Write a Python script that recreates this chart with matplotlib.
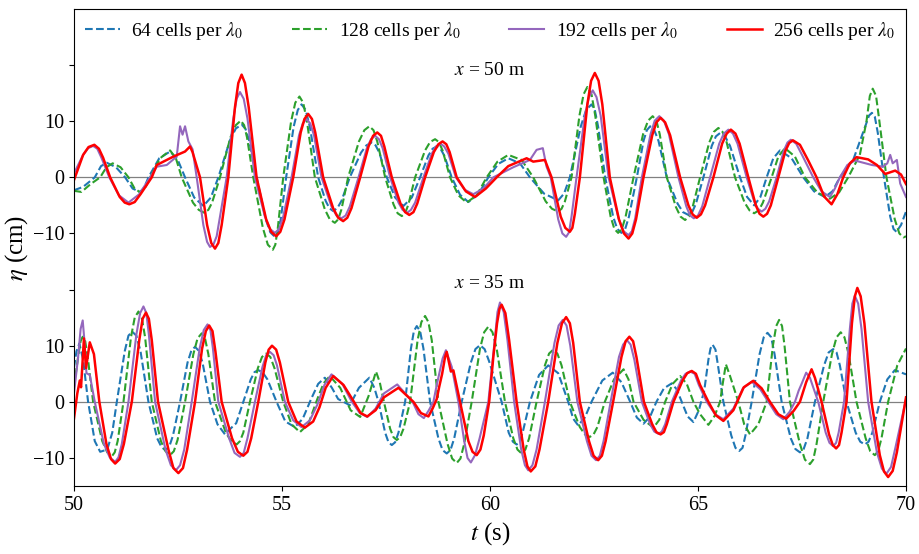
import matplotlib.pyplot as plt

plt.rcParams['font.family'] = ['Liberation Serif', 'DejaVu Serif']
plt.rcParams['mathtext.fontset'] = 'stix'

labels = ['64 cells per $\\lambda_0$', '128 cells per $\\lambda_0$',
          '192 cells per $\\lambda_0$', '256 cells per $\\lambda_0$']
offset_top = 40  # the x = 50 m record is drawn 40 cm higher

# (t [s], eta [cm]), x = 35 m
b64 = [(50.00, 6.1), (50.06, 9.0), (50.13, 10.4), (50.22, 7.5), (50.34, 0), (50.50, -7.0), (50.63, -8.9),
       (50.80, -8.5), (50.92, -5.5), (51.03, 0), (51.22, 9.0), (51.31, 11.8), (51.40, 12.5), (51.50, 11.8),
       (51.60, 9.0), (51.79, 0), (52.00, -6.5), (52.10, -8.0), (52.19, -8.6), (52.29, -8.0), (52.38, -6.0),
       (52.55, 0), (52.73, 7.0), (52.82, 9.1), (52.91, 9.8), (53.00, 9.1), (53.09, 7.0), (53.27, 0),
       (53.45, -4.0), (53.63, -5.8), (53.80, -4.5), (53.90, -3.8), (54.07, 0), (54.25, 4.0), (54.34, 5.3),
       (54.43, 5.65), (54.54, 5.2), (54.65, 4.0), (54.87, 0), (55.08, -3.5), (55.31, -4.5), (55.50, -3.0),
       (55.70, 0.5), (55.87, 3.2), (56.03, 4.3), (56.20, 2.5), (56.35, 0.5), (56.63, -0.6), (56.85, 2.5),
       (57.10, 4.3), (57.22, 2.5), (57.32, 0), (57.48, -5.5), (57.56, -7.2), (57.64, -7.7), (57.72, -7.2),
       (57.80, -5.5), (57.96, 0), (58.10, 9.5), (58.17, 12.6), (58.24, 13.5), (58.32, 12.6), (58.40, 9.5),
       (58.56, 0), (58.76, -6.5), (58.86, -8.6), (58.96, -9.2), (59.05, -8.6), (59.14, -6.5), (59.32, 0),
       (59.54, 7.0), (59.65, 9.4), (59.76, 10.1), (59.87, 9.4), (59.98, 7.2), (60.28, 0), (60.45, -5.5),
       (60.55, -7.1), (60.64, -7.6), (60.72, -7.1), (60.80, -5.0), (60.96, 0), (61.18, 4.8), (61.40, 6.5),
       (61.64, 5.1), (61.88, 0), (62.00, -3.0), (62.12, -4.2), (62.28, -2.8), (62.44, 0), (62.70, 3.8),
       (62.95, 5.2), (63.16, 3.5), (63.37, 0), (63.53, -2.8), (63.69, -3.9), (63.85, -2.6), (64.00, 0),
       (64.18, 2.4), (64.37, 3.3), (64.49, 2.2), (64.61, 0), (64.75, -2.6), (64.89, -3.6), (65.02, -1.5),
       (65.15, 2.0), (65.25, 7.5), (65.30, 9.5), (65.35, 10.2), (65.42, 9.3), (65.48, 6.5), (65.61, 0),
       (65.80, -6.0), (65.90, -8.2), (65.99, -8.75), (66.07, -8.2), (66.14, -6.0), (66.29, 0), (66.48, 8.5),
       (66.58, 11.5), (66.67, 12.3), (66.76, 11.5), (66.84, 8.5), (67.01, 0), (67.23, -6.5), (67.34, -8.4),
       (67.45, -9.0), (67.54, -8.4), (67.63, -6.5), (67.81, 0), (68.03, 6.5), (68.14, 8.8), (68.25, 9.4),
       (68.33, 8.8), (68.41, 6.5), (68.57, 0), (68.79, -5.5), (68.90, -7.1), (69.01, -7.6), (69.10, -7.1),
       (69.19, -5.5), (69.37, 0), (69.55, 4.0), (69.73, 5.65), (70.00, 4.9)]

b128 = [(50.00, 2.7), (50.10, 8.0), (50.16, 10.8), (50.21, 11.6), (50.27, 10.8), (50.33, 8.0), (50.46, 0),
        (50.68, -7.0), (50.80, -9.0), (50.91, -9.7), (50.98, -9.0), (51.05, -7.0), (51.19, 0), (51.37, 11.5),
        (51.46, 15.0), (51.55, 16.1), (51.63, 15.0), (51.71, 11.5), (51.87, 0), (52.09, -7.0), (52.20, -8.8),
        (52.31, -9.5), (52.40, -8.8), (52.49, -6.8), (52.67, 0), (52.87, 8.5), (52.97, 11.3), (53.07, 12.2),
        (53.15, 11.3), (53.23, 8.5), (53.39, 0), (53.65, -5.5), (53.78, -7.0), (53.91, -7.6), (53.99, -7.0),
        (54.07, -5.5), (54.23, 0), (54.42, 6.0), (54.52, 8.0), (54.62, 8.6), (54.72, 8.0), (54.82, 6.0),
        (55.03, 0), (55.23, -4.0), (55.43, -5.4), (55.63, -4.0), (55.85, 0.5), (56.00, 3.3), (56.15, 4.6),
        (56.40, 2.5), (56.65, -1.5), (56.88, -2.7), (57.08, 1.0), (57.26, 5.4), (57.35, 3.5), (57.45, 0),
        (57.60, -4.8), (57.68, -6.3), (57.76, -6.8), (57.84, -6.3), (57.92, -4.8), (58.08, 0), (58.26, 11.0),
        (58.35, 14.2), (58.44, 15.3), (58.52, 14.2), (58.60, 11.0), (58.76, 0), (58.98, -7.5), (59.09, -10.1),
        (59.20, -10.9), (59.29, -10.1), (59.38, -7.5), (59.56, 0), (59.76, 9.5), (59.86, 12.4), (59.96, 13.4),
        (60.06, 12.4), (60.16, 9.5), (60.36, 0), (60.56, -6.5), (60.66, -8.5), (60.76, -9.2), (60.85, -8.5),
        (60.94, -6.5), (61.12, 0), (61.32, 6.5), (61.42, 8.6), (61.52, 9.3), (61.62, 8.6), (61.72, 6.5),
        (61.92, 0), (62.16, -4.5), (62.28, -5.8), (62.40, -6.25), (62.49, -5.8), (62.58, -4.5), (62.76, 0),
        (62.98, 4.0), (63.21, 5.8), (63.33, 4.0), (63.45, 0), (63.69, -3.2), (63.93, -4.6), (64.07, -3.2),
        (64.21, 0), (64.39, 3.2), (64.57, 4.6), (64.73, 3.2), (64.89, 0), (65.05, -2.2), (65.25, -4.1),
        (65.40, -2.5), (65.53, 0), (65.60, 3.5), (65.67, 6.7), (65.77, 4.6), (65.97, 0), (66.11, -4.0),
        (66.25, -5.8), (66.45, -4.0), (66.65, 0), (66.80, 10.0), (66.88, 13.5), (66.95, 14.6), (67.02, 13.5),
        (67.08, 10.0), (67.21, 0), (67.45, -7.5), (67.57, -10.3), (67.69, -11.1), (67.77, -10.3), (67.85, -7.5),
        (68.01, 0), (68.22, 8.5), (68.33, 11.5), (68.43, 12.4), (68.52, 11.5), (68.62, 8.5), (68.81, 0),
        (69.03, -6.5), (69.14, -8.8), (69.25, -9.5), (69.33, -8.8), (69.41, -6.5), (69.57, 0), (69.79, 6.5),
        (70.00, 9.5)]

b192 = [(50.00, 1.5), (50.10, 8.0), (50.16, 13.0), (50.21, 14.5), (50.25, 11.0), (50.30, 5.1), (50.38, 4.8),
        (50.50, 0), (50.72, -7.5), (50.86, -9.9), (50.99, -10.7), (51.07, -9.9), (51.15, -7.5), (51.31, 0),
        (51.50, 12.0), (51.59, 15.8), (51.67, 17.0), (51.74, 15.8), (51.80, 12.0), (51.95, 0), (52.20, -8.5),
        (52.33, -11.3), (52.45, -12.2), (52.55, -11.3), (52.65, -8.5), (52.83, 0), (53.02, 9.5), (53.12, 12.8),
        (53.21, 13.8), (53.28, 12.8), (53.34, 9.5), (53.47, 0), (53.73, -6.5), (53.86, -9.1), (53.99, -9.8),
        (54.08, -9.1), (54.17, -6.5), (54.35, 0), (54.53, 6.2), (54.62, 8.3), (54.71, 8.9), (54.80, 8.3),
        (54.88, 6.5), (55.07, 0), (55.27, -3.3), (55.47, -4.5), (55.67, -3.3), (55.85, -0.5), (56.02, 3.0),
        (56.19, 4.9), (56.45, 3.2), (56.68, 0), (56.87, -2.0), (57.05, -2.7), (57.25, -1.2), (57.45, 1.5),
        (57.77, 3.1), (58.14, 0), (58.28, -2.2), (58.41, -2.9), (58.53, -1.5), (58.64, 0), (58.72, 3.0),
        (58.80, 5.7), (58.86, 7.7), (58.94, 9.2), (59.02, 7.5), (59.08, 6.25), (59.24, 0), (59.38, -7.0),
        (59.46, -10.0), (59.54, -10.8), (59.64, -9.5), (59.75, -6.5), (59.96, 0), (60.10, 10.0), (60.18, 16.0),
        (60.24, 17.7), (60.33, 16.0), (60.42, 11.0), (60.58, 0), (60.75, -8.5), (60.84, -11.3), (60.92, -12.2),
        (61.02, -11.3), (61.12, -8.5), (61.32, 0), (61.55, 10.5), (61.65, 13.6), (61.75, 14.6), (61.84, 13.6),
        (61.93, 10.0), (62.10, 0), (62.33, -7.0), (62.44, -9.6), (62.55, -10.4), (62.64, -9.6), (62.73, -7.0),
        (62.90, 0), (63.10, 8.0), (63.20, 10.2), (63.29, 11.0), (63.38, 10.2), (63.47, 7.5), (63.65, 0),
        (63.85, -4.0), (63.95, -5.3), (64.05, -5.7), (64.13, -5.3), (64.21, -4.0), (64.37, 0), (64.59, 3.8),
        (64.70, 5.0), (64.81, 5.4), (64.92, 5.0), (65.02, 3.0), (65.21, 0), (65.41, -2.2), (65.61, -3.1),
        (65.85, -1.2), (66.08, 2.4), (66.29, 3.6), (66.50, 2.2), (66.69, 0), (66.88, -2.2), (67.05, -3.1),
        (67.20, -1.8), (67.33, 0), (67.42, 2.0), (67.49, 3.2), (67.60, 5.2), (67.69, 4.3), (67.89, 0),
        (68.07, -5.5), (68.16, -7.3), (68.25, -7.9), (68.32, -7.3), (68.38, -5.5), (68.51, 0), (68.65, 13.0),
        (68.71, 17.5), (68.77, 18.9), (68.85, 17.5), (68.93, 13.0), (69.09, 0), (69.30, -9.0), (69.42, -11.9),
        (69.53, -12.8), (69.64, -11.6), (69.75, -8.0), (70.00, 0.5)]

b256 = [(50.00, -3.0), (50.08, 1.5), (50.14, 3.8), (50.17, 2.6), (50.24, 11.3), (50.29, 6.0), (50.38, 10.6),
        (50.48, 8.5), (50.61, 0), (50.78, -7.5), (50.89, -10.2), (50.99, -11.0), (51.10, -10.2), (51.20, -7.5),
        (51.39, 0), (51.57, 11.0), (51.65, 14.8), (51.73, 15.9), (51.80, 14.8), (51.87, 11.0), (52.02, 0),
        (52.27, -8.5), (52.39, -11.8), (52.51, -12.7), (52.62, -11.8), (52.72, -8.5), (52.91, 0), (53.08, 9.5),
        (53.17, 12.6), (53.25, 13.6), (53.33, 12.6), (53.40, 9.0), (53.55, 0), (53.80, -6.5), (53.94, -8.9),
        (54.07, -9.6), (54.17, -8.9), (54.26, -6.5), (54.43, 0), (54.60, 7.0), (54.68, 9.3), (54.76, 10.0),
        (54.86, 9.3), (54.95, 7.0), (55.15, 0), (55.35, -3.5), (55.55, -4.6), (55.75, -3.5), (55.90, -1.0),
        (56.05, 2.5), (56.23, 4.6), (56.48, 3.0), (56.73, 0), (56.89, -2.0), (57.05, -2.6), (57.25, -1.5),
        (57.45, 0.8), (57.80, 2.5), (58.16, 0), (58.34, -2.0), (58.52, -2.6), (58.62, -1.2), (58.72, 0.5),
        (58.78, 2.7), (58.85, 5.0), (58.92, 8.0), (58.96, 8.9), (59.03, 6.5), (59.06, 5.4), (59.12, 5.6),
        (59.28, 0), (59.48, -7.0), (59.58, -8.9), (59.68, -9.5), (59.77, -8.5), (59.85, -6.0), (59.98, 0),
        (60.08, 8.0), (60.17, 14.0), (60.23, 16.6), (60.28, 17.3), (60.37, 15.8), (60.46, 11.0), (60.64, 0),
        (60.81, -8.5), (60.90, -11.5), (60.98, -12.4), (61.09, -11.5), (61.19, -8.5), (61.40, 0), (61.62, 10.5),
        (61.73, 14.0), (61.83, 15.1), (61.92, 14.0), (62.00, 10.5), (62.16, 0), (62.38, -7.0), (62.49, -9.6),
        (62.60, -10.4), (62.69, -9.6), (62.78, -7.0), (62.96, 0), (63.16, 8.0), (63.26, 10.8), (63.35, 11.6),
        (63.44, 10.8), (63.52, 8.0), (63.70, 0), (63.90, -4.0), (64.00, -5.4), (64.10, -5.8), (64.18, -5.4),
        (64.25, -4.0), (64.41, 0), (64.63, 3.8), (64.74, 5.1), (64.85, 5.5), (64.95, 5.0), (65.05, 3.0),
        (65.25, 0), (65.43, -2.4), (65.61, -3.4), (65.85, -1.5), (66.10, 2.6), (66.33, 3.75), (66.53, 2.4),
        (66.73, 0), (66.93, -2.2), (67.12, -3.0), (67.30, -1.6), (67.45, 0), (67.60, 3.5), (67.73, 5.8),
        (67.81, 4.3), (67.97, 0), (68.15, -5.8), (68.24, -7.7), (68.32, -8.3), (68.39, -7.7), (68.45, -5.5),
        (68.57, 0), (68.70, 14.0), (68.77, 18.8), (68.83, 20.3), (68.91, 18.8), (69.00, 14.0), (69.17, 0),
        (69.37, -9.5), (69.47, -12.4), (69.57, -13.4), (69.68, -12.3), (69.78, -9.0), (70.00, 0.8)]

# x = 50 m
a64 = [(50.00, -2.3), (50.22, -1.7), (50.50, 0), (50.65, 2.0), (50.79, 2.6), (51.01, 1.8), (51.23, 0),
       (51.41, -2.0), (51.59, -2.6), (51.69, -1.8), (51.79, 0), (52.05, 3.4), (52.31, 4.6), (52.49, 3.2),
       (52.67, 0), (52.89, -3.6), (53.11, -5.1), (53.29, -3.6), (53.47, 0), (53.75, 6.6), (53.89, 8.7),
       (54.03, 9.4), (54.12, 8.7), (54.21, 6.6), (54.39, 0), (54.61, -7.5), (54.72, -9.8), (54.83, -10.6),
       (54.90, -9.8), (54.97, -7.5), (55.10, 0), (55.28, 9.0), (55.38, 12.0), (55.47, 13.0), (55.57, 12.0),
       (55.67, 9.0), (55.87, 0), (56.05, -4.2), (56.14, -5.5), (56.23, -6.0), (56.33, -5.5), (56.43, -4.2),
       (56.63, 0), (56.90, 4.4), (57.03, 5.7), (57.16, 6.2), (57.25, 5.7), (57.34, 4.4), (57.52, 0),
       (57.72, -3.6), (57.92, -5.1), (58.12, -3.6), (58.32, 0), (58.52, 3.9), (58.62, 5.1), (58.72, 5.5),
       (58.81, 5.1), (58.90, 3.9), (59.08, 0), (59.28, -3.1), (59.48, -4.4), (59.72, -3.0), (59.96, 0),
       (60.20, 2.4), (60.44, 3.4), (60.72, 2.5), (60.96, 0), (61.30, -2.9), (61.64, -4.1), (61.78, -2.9),
       (61.92, 0), (62.18, 9.0), (62.31, 12.0), (62.44, 13.0), (62.52, 12.0), (62.60, 9.0), (62.77, 0),
       (62.96, -7.0), (63.06, -9.2), (63.16, -9.9), (63.25, -9.2), (63.34, -7.0), (63.53, 0), (63.69, 6.5),
       (63.77, 8.4), (63.85, 9.1), (63.95, 8.4), (64.05, 6.5), (64.25, 0), (64.51, -4.7), (64.64, -6.2),
       (64.77, -6.7), (64.86, -6.2), (64.95, -4.7), (65.13, 0), (65.33, 5.6), (65.43, 7.3), (65.53, 7.9),
       (65.65, 7.3), (65.77, 5.6), (66.01, 0), (66.18, -3.5), (66.35, -5.0), (66.50, -3.5), (66.65, 0),
       (66.81, 3.4), (66.97, 4.8), (67.25, 3.4), (67.53, 0), (67.79, -2.5), (68.05, -3.5), (68.23, -2.5),
       (68.41, 0), (68.73, 3.1), (68.89, 6.4), (69.04, 9.5), (69.11, 11.0), (69.18, 11.5), (69.25, 10.8),
       (69.32, 8.0), (69.47, 0), (69.62, -7.0), (69.70, -9.2), (69.77, -9.7), (69.88, -8.5), (70.00, -6.1)]

a128 = [(50.00, -2.4), (50.18, -2.6), (50.40, -1.2), (50.63, 0), (50.78, 1.8), (50.93, 2.5), (51.12, 1.8),
        (51.31, 0), (51.45, -1.9), (51.59, -2.7), (51.71, -1.9), (51.83, 0), (52.07, 3.4), (52.31, 4.8),
        (52.45, 3.4), (52.59, 0), (52.86, -4.5), (53.00, -5.8), (53.13, -6.3), (53.23, -5.8), (53.32, -4.5),
        (53.51, 0), (53.76, 7.1), (53.89, 9.3), (54.01, 10.1), (54.09, 9.3), (54.16, 7.1), (54.31, 0),
        (54.54, -9.0), (54.66, -12.0), (54.78, -12.9), (54.84, -12.0), (54.90, -9.0), (55.03, 0), (55.22, 10.0),
        (55.32, 13.3), (55.42, 14.4), (55.51, 13.3), (55.60, 10.0), (55.79, 0), (56.03, -5.7), (56.15, -7.5),
        (56.27, -8.1), (56.35, -7.5), (56.43, -5.7), (56.59, 0), (56.85, 6.4), (56.98, 8.4), (57.10, 9.1),
        (57.20, 8.4), (57.29, 6.4), (57.48, 0), (57.68, -4.8), (57.78, -6.4), (57.88, -6.9), (57.96, -6.4),
        (58.04, -4.8), (58.20, 0), (58.44, 4.8), (58.56, 6.3), (58.68, 6.8), (58.77, 6.3), (58.86, 4.8),
        (59.04, 0), (59.24, -3.2), (59.44, -4.5), (59.68, -3.2), (59.92, 0), (60.18, 2.8), (60.44, 4.0),
        (60.76, 3.1), (61.04, 0), (61.34, -4.3), (61.49, -5.6), (61.64, -6.1), (61.72, -5.6), (61.80, -4.3),
        (61.96, 0), (62.15, 11.0), (62.25, 14.8), (62.34, 16.1), (62.44, 14.8), (62.53, 11.0), (62.73, 0),
        (62.90, -7.0), (62.99, -9.2), (63.08, -9.9), (63.17, -9.2), (63.26, -7.0), (63.45, 0), (63.68, 7.7),
        (63.80, 10.1), (63.91, 10.9), (64.00, 10.1), (64.08, 7.7), (64.25, 0), (64.47, -5.3), (64.58, -7.0),
        (64.69, -7.6), (64.78, -7.0), (64.87, -5.3), (65.05, 0), (65.27, 6.2), (65.38, 8.1), (65.49, 8.8),
        (65.59, 8.1), (65.69, 6.2), (65.89, 0), (66.12, -4.5), (66.24, -5.9), (66.35, -6.4), (66.46, -5.9),
        (66.56, -4.5), (66.77, 0), (66.93, 3.7), (67.09, 5.2), (67.33, 3.7), (67.57, 0), (67.87, -2.7),
        (68.17, -3.8), (68.39, -2.7), (68.61, 0), (68.89, 4.0), (69.05, 10.0), (69.13, 14.5), (69.20, 15.8),
        (69.28, 14.5), (69.36, 10.0), (69.53, 0), (69.73, -7.5), (69.84, -10.0), (69.94, -10.7), (70.00, -10.5)]

a192 = [(50.00, 0.7), (50.22, 4.0), (50.34, 5.2), (50.46, 5.6), (50.56, 5.1), (50.66, 3.5), (50.85, 0),
        (51.08, -3.2), (51.31, -4.5), (51.57, -3.0), (51.83, 0), (51.99, 1.9), (52.23, 2.2), (52.47, 3.7),
        (52.55, 9.1), (52.61, 7.6), (52.67, 9.1), (52.75, 6.4), (52.85, 5.0), (52.95, 0), (53.11, -8.5),
        (53.20, -11.5), (53.27, -12.4), (53.35, -12.0), (53.43, -10.5), (53.51, -7.0), (53.67, 0), (53.83, 10.5),
        (53.91, 14.0), (53.99, 15.2), (54.08, 14.0), (54.17, 10.5), (54.35, 0), (54.59, -7.0), (54.71, -9.2),
        (54.83, -9.9), (54.93, -9.2), (55.03, -7.0), (55.23, 0), (55.41, 7.5), (55.50, 9.6), (55.59, 10.4),
        (55.68, 9.6), (55.77, 7.5), (55.95, 0), (56.19, -5.2), (56.31, -6.8), (56.43, -7.3), (56.53, -6.8),
        (56.63, -5.2), (56.84, 0), (57.04, 5.2), (57.14, 6.8), (57.24, 7.4), (57.33, 6.8), (57.42, 5.2),
        (57.60, 0), (57.80, -4.5), (57.90, -5.8), (58.01, -6.3), (58.10, -5.8), (58.20, -4.5), (58.40, 0),
        (58.60, 4.2), (58.70, 5.5), (58.81, 6.0), (58.90, 5.5), (59.00, 4.2), (59.18, 0), (59.39, -2.2),
        (59.60, -3.0), (59.84, -2.0), (60.08, 0), (60.56, 1.8), (60.96, 3.1), (61.12, 4.9), (61.27, 5.2),
        (61.36, 1.9), (61.46, 0), (61.64, -7.5), (61.74, -10.0), (61.83, -10.6), (61.90, -9.8), (61.96, -7.0),
        (62.08, 0), (62.28, 11.0), (62.38, 14.3), (62.47, 15.5), (62.56, 14.3), (62.66, 11.0), (62.85, 0),
        (63.09, -7.3), (63.21, -9.6), (63.33, -10.3), (63.41, -9.6), (63.49, -7.3), (63.65, 0), (63.86, 7.7),
        (63.96, 10.1), (64.07, 10.9), (64.18, 10.1), (64.30, 7.7), (64.53, 0), (64.72, -5.2), (64.81, -6.8),
        (64.90, -7.3), (65.00, -6.8), (65.10, -5.2), (65.29, 0), (65.51, 6.0), (65.62, 7.8), (65.73, 8.5),
        (65.84, 7.8), (65.95, 6.0), (66.17, 0), (66.35, -4.3), (66.44, -5.6), (66.53, -6.1), (66.62, -5.6),
        (66.71, -4.3), (66.89, 0), (67.06, 4.7), (67.15, 6.2), (67.23, 6.7), (67.36, 6.0), (67.50, 4.0),
        (67.77, 0), (67.97, -2.5), (68.17, -3.5), (68.29, -2.0), (68.41, 0), (68.59, 2.2), (68.77, 3.0),
        (69.18, 2.2), (69.45, 1.9), (69.55, 2.5), (69.62, 4.0), (69.68, 2.5), (69.78, 3.1), (69.86, -1.1),
        (70.00, -3.5)]

a256 = [(50.00, -0.5), (50.22, 4.0), (50.35, 5.4), (50.49, 5.8), (50.60, 5.1), (50.70, 3.5), (50.87, 0),
        (51.10, -3.5), (51.22, -4.5), (51.33, -4.8), (51.46, -4.4), (51.60, -3.0), (51.87, 0), (51.99, 2.2),
        (52.39, 3.7), (52.67, 4.6), (52.79, 5.5), (52.85, 4.5), (52.95, 2.0), (53.03, 0), (53.20, -8.5),
        (53.30, -11.7), (53.39, -12.7), (53.47, -11.7), (53.55, -8.5), (53.71, 0), (53.87, 12.5), (53.95, 16.8),
        (54.03, 18.3), (54.11, 16.8), (54.20, 12.5), (54.39, 0), (54.62, -7.5), (54.74, -9.7), (54.86, -10.5),
        (54.96, -9.7), (55.06, -7.5), (55.27, 0), (55.45, 8.0), (55.54, 10.4), (55.63, 11.3), (55.72, 10.4),
        (55.80, 8.0), (55.99, 0), (56.23, -5.5), (56.35, -7.2), (56.47, -7.8), (56.57, -7.2), (56.67, -5.5),
        (56.88, 0), (57.08, 5.5), (57.19, 7.4), (57.29, 8.0), (57.38, 7.4), (57.46, 5.5), (57.64, 0),
        (57.85, -4.7), (57.96, -6.2), (58.06, -6.7), (58.16, -6.2), (58.25, -4.7), (58.44, 0), (58.65, 4.5),
        (58.76, 5.9), (58.86, 6.4), (58.95, 5.9), (59.03, 4.5), (59.20, 0), (59.42, -2.5), (59.64, -3.5),
        (59.90, -2.0), (60.16, 0), (60.44, 2.0), (60.88, 3.4), (61.04, 2.8), (61.32, 3.1), (61.48, 0),
        (61.70, -7.0), (61.81, -9.0), (61.92, -9.7), (61.98, -9.0), (62.04, -6.5), (62.16, 0), (62.34, 13.0),
        (62.43, 17.2), (62.52, 18.6), (62.61, 17.2), (62.70, 13.0), (62.88, 0), (63.10, -7.5), (63.22, -10.0),
        (63.33, -10.9), (63.42, -10.0), (63.51, -7.5), (63.69, 0), (63.90, 7.5), (64.00, 9.8), (64.10, 10.6),
        (64.21, 9.8), (64.33, 7.5), (64.57, 0), (64.77, -5.0), (64.87, -6.6), (64.97, -7.2), (65.07, -6.6),
        (65.17, -5.0), (65.37, 0), (65.58, 6.0), (65.69, 7.8), (65.79, 8.5), (65.90, 7.8), (66.00, 6.0),
        (66.21, 0), (66.39, -5.0), (66.48, -6.5), (66.57, -7.0), (66.66, -6.5), (66.75, -5.0), (66.93, 0),
        (67.10, 4.7), (67.19, 6.1), (67.28, 6.6), (67.45, 5.8), (67.65, 3.0), (67.85, 0), (68.03, -3.4),
        (68.21, -4.8), (68.35, -3.0), (68.49, 0), (68.65, 2.5), (68.81, 3.6), (69.09, 3.2), (69.30, 2.2),
        (69.50, 0.6), (69.74, 1.2), (69.88, 0.5), (70.00, -1.2)]

fig, ax = plt.subplots(figsize=(9.2, 5.54), dpi=100)
fig.subplots_adjust(left=0.0804, right=0.9848, bottom=0.1227, top=0.9838)

ax.axhline(0, color='grey', lw=0.9, zorder=1)
ax.axhline(offset_top, color='grey', lw=0.9, zorder=1)

styles = [dict(color='#1f77b4', ls='--', lw=1.5),
          dict(color='#2ca02c', ls='--', lw=1.5),
          dict(color='#9467bd', ls='-', lw=1.5),
          dict(color='red', ls='-', lw=1.8)]

for rec35, rec50, st, lab in zip([b64, b128, b192, b256], [a64, a128, a192, a256], styles, labels):
    t, eta = zip(*rec35)
    ax.plot(t, eta, label=lab, solid_joinstyle='round', dash_joinstyle='round', **st)
    t, eta = zip(*rec50)
    ax.plot(t, [v + offset_top for v in eta], solid_joinstyle='round', dash_joinstyle='round', **st)

ax.set_xlim(50, 70)
ax.set_ylim(-15, 70)
ax.set_xticks([50, 55, 60, 65, 70])
ax.set_yticks([-10, 0, 10, 20, 30, 40, 50, 60])
ax.set_yticklabels(['\u221210', '0', '10', '', '\u221210', '0', '10', ''])
ax.tick_params(labelsize=14.5)

ax.text(60, 59, '$x$ = 50 m', ha='center', va='center', fontsize=14)
ax.text(60, 21, '$x$ = 35 m', ha='center', va='center', fontsize=14)

ax.set_xlabel('$t$ (s)', fontsize=18)
ax.set_ylabel('$\\eta$ (cm)', fontsize=18, labelpad=2)

ax.legend(loc='upper left', bbox_to_anchor=(0, 1, 1, 0), mode='expand', ncol=4,
          frameon=False, fontsize=14, handlelength=1.8, handletextpad=0.6,
          borderaxespad=0.15)

fig.savefig('out.png', dpi=100)
